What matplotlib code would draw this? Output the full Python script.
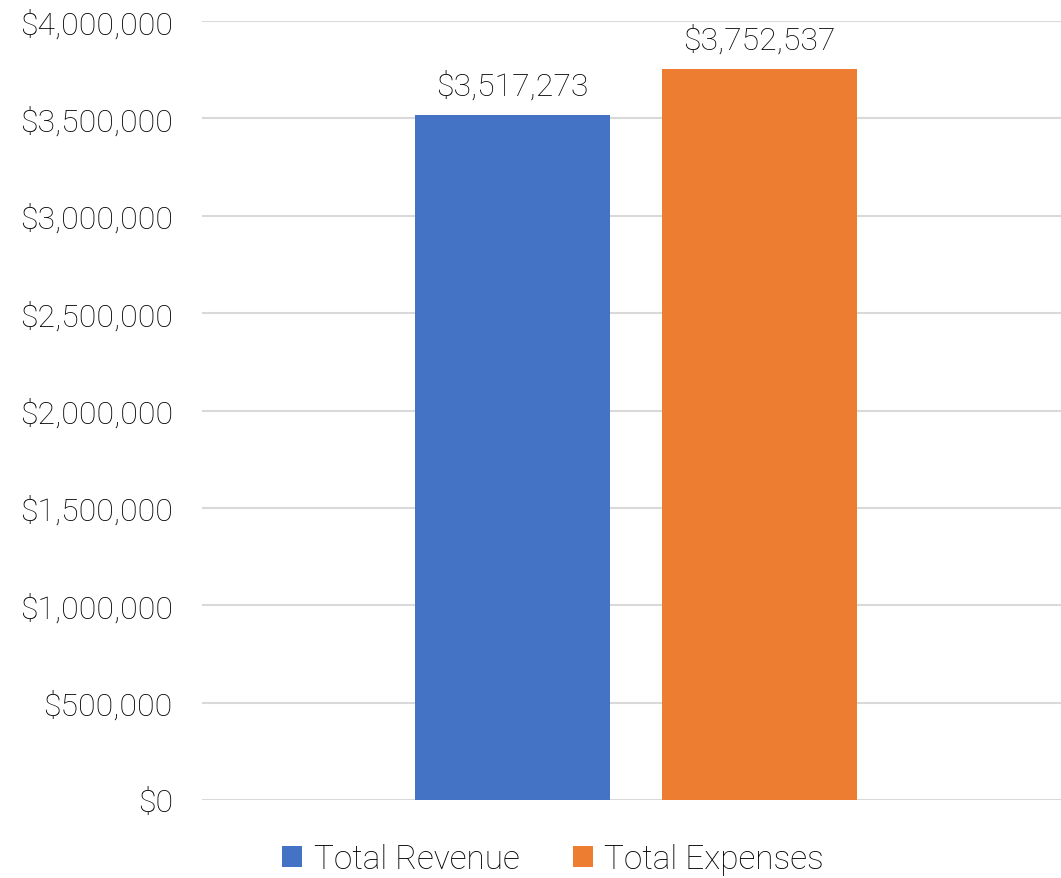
import matplotlib.pyplot as plt
from matplotlib.ticker import FuncFormatter

series = ["Total Revenue", "Total Expenses"]
values = [3517273, 3752537]
colors = ["#4472C4", "#ED7D31"]
yticks = [0, 500000, 1000000, 1500000, 2000000, 2500000, 3000000, 3500000, 4000000]

plt.rcParams['font.family'] = ['Roboto', 'DejaVu Sans']
plt.rcParams['font.weight'] = 'light'

fig = plt.figure(figsize=(10.61, 8.79), dpi=100)
ax = fig.add_axes([202/1061, 1-801/879, 859/1061, 779/879])

width = 0.227
gap = 0.0605
offsets = [-(width + gap)/2, (width + gap)/2]
for i in range(len(series)):
    b = ax.bar(offsets[i], values[i], width=width, color=colors[i], label=series[i], zorder=3)
    ax.text(offsets[i], values[i] + 75000, "${:,}".format(values[i]), ha='center', va='bottom',
            fontsize=23, color='#000000')

ax.set_xlim(-0.505, 0.495)
ax.set_ylim(0, 4000000)
ax.set_yticks(yticks)
ax.yaxis.set_major_formatter(FuncFormatter(lambda v, p: "${:,.0f}".format(v)))
ax.tick_params(axis='y', length=0, pad=21, labelsize=23, labelcolor='#000000')
ax.set_xticks([])
ax.grid(axis='y', color='#D9D9D9', linewidth=1.5, zorder=0)
for s in ax.spines.values():
    s.set_visible(False)

fig.legend(loc='center', bbox_to_anchor=(553/1061, 1-860/879), ncol=2, frameon=False,
           prop={'size': 24, 'weight': 'light'}, handlelength=0.6, handleheight=0.6,
           handletextpad=0.35, columnspacing=1.6, labelcolor='#000000')

plt.savefig('out.png', dpi=100)
